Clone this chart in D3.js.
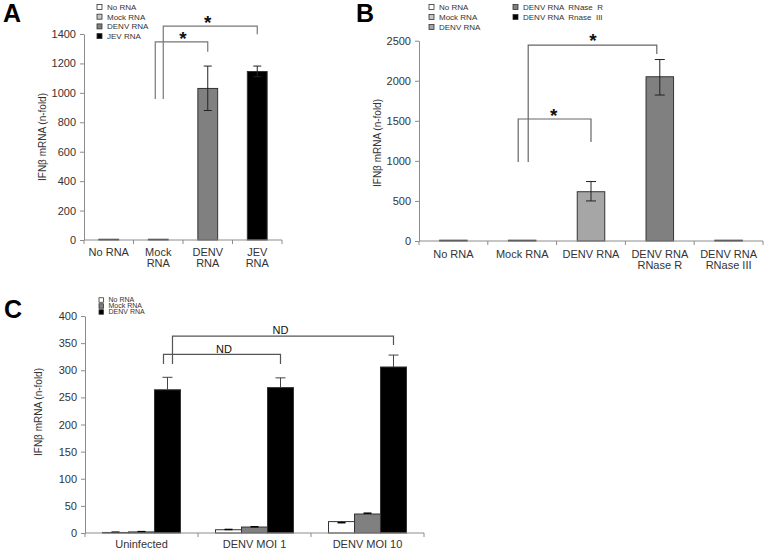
<!DOCTYPE html>
<html><head><meta charset="utf-8">
<script src="https://cdn.jsdelivr.net/npm/d3@7"></script>
<style>body{margin:0;background:#fff}svg{display:block;font-family:"Liberation Sans",Arial,sans-serif}</style>
</head><body><svg id="c" width="767" height="551"></svg>
<script>
// ---------- Data ----------
// Panel A
const catsA = ["No RNA", "Mock RNA", "DENV RNA", "JEV RNA"];
const labelsA = [["No RNA"], ["Mock", "RNA"], ["DENV", "RNA"], ["JEV", "RNA"]];
const valsA = [5, 5, 1030, 1145];
const errLoA = [0, 0, 880, 1110];
const errHiA = [0, 0, 1182, 1182];
const colorsA = ["#ffffff", "#c8c8c8", "#808080", "#000000"];
const ticksA = [0, 200, 400, 600, 800, 1000, 1200, 1400];
const legendA = ["No RNA", "Mock RNA", "DENV RNA", "JEV RNA"];

// Panel B
const catsB = ["No RNA", "Mock RNA", "DENV RNA", "DENV RNA RNase R", "DENV RNA RNase III"];
const labelsB = [["No RNA"], ["Mock RNA"], ["DENV RNA"], ["DENV RNA", "RNase R"], ["DENV RNA", "RNase III"]];
const valsB = [10, 10, 615, 2050, 10];
const errLoB = [0, 0, 500, 1822, 0];
const errHiB = [0, 0, 742, 2265, 0];
const colorsB = ["#ffffff", "#c8c8c8", "#a6a6a6", "#808080", "#000000"];
const ticksB = [0, 500, 1000, 1500, 2000, 2500];
const legendB = ["No RNA", "Mock RNA", "DENV RNA", "DENV RNA  RNase  R", "DENV RNA  Rnase  III"];
const legendColorsB = ["#ffffff", "#c8c8c8", "#a6a6a6", "#808080", "#000000"];

// Panel C
const groupsC = ["Uninfected", "DENV MOI 1", "DENV MOI 10"];
const seriesC = ["No RNA", "Mock RNA", "DENV RNA"];
const valsC = [[1, 2, 264], [6, 11, 268], [21, 35, 306]];
const errC = [[0.5, 0.5, 23], [0.5, 0.5, 18], [-2, 1.5, 22]];
const colorsC = ["#ffffff", "#808080", "#000000"];
const ticksC = [0, 50, 100, 150, 200, 250, 300, 350, 400];

// ---------- Drawing ----------
const svg = d3.select("#c");
const AX = "#8c8c8c", TX = "#333";

function yAxis(g, y, ticks) {
  g.call(d3.axisLeft(y).tickValues(ticks).tickFormat(d3.format("d")).tickSize(4).tickSizeOuter(0).tickPadding(4));
  g.select(".domain").attr("stroke", AX);
  g.selectAll(".tick line").attr("stroke", AX);
  g.selectAll(".tick text").attr("fill", TX).style("font-size", "11px").style("font-family", "Liberation Sans, Arial, sans-serif");
}
function xAxis(g, x, y0) {
  const r = x.range();
  g.append("line").attr("x1", r[0]).attr("x2", r[1]).attr("y1", y0).attr("y2", y0).attr("stroke", AX);
  const bounds = x.domain().map(d => x(d) - x.step() * x.paddingOuter()).concat([r[1]]);
  g.selectAll(".sep").data(bounds).join("line")
    .attr("x1", d => d).attr("x2", d => d).attr("y1", y0).attr("y2", y0 + 4).attr("stroke", AX);
}
function xLabels(g, x, cats, labels, y0, fs) {
  cats.forEach((c, i) => {
    const t = g.append("text").attr("x", x(c) + x.bandwidth() / 2).attr("y", y0)
      .attr("text-anchor", "middle").attr("fill", TX).style("font-size", fs + "px");
    labels[i].forEach((l, j) => t.append("tspan").attr("x", x(c) + x.bandwidth() / 2).attr("dy", j ? fs : 0).text(l));
  });
}
function yTitle(g, cx, cy) {
  g.append("text").attr("transform", `translate(${cx},${cy}) rotate(-90)`).attr("text-anchor", "middle")
    .attr("fill", TX).style("font-size", "10px").text("IFNβ mRNA (n-fold)");
}
function legend(g, x0, y0, items, colors, dy, fs, sq) {
  items.forEach((t, i) => {
    g.append("rect").attr("x", x0).attr("y", y0 + i * dy - sq / 2).attr("width", sq).attr("height", sq)
      .attr("fill", colors[i]).attr("stroke", "#333").attr("stroke-width", 0.8);
    g.append("text").attr("x", x0 + sq + 5).attr("y", y0 + i * dy).attr("dy", "0.35em")
      .attr("fill", TX).style("font-size", fs + "px").style("white-space", "pre").text(t);
  });
}
function errBar(g, cx, yLo, yHi, w) {
  g.append("line").attr("x1", cx).attr("x2", cx).attr("y1", yLo).attr("y2", yHi).attr("stroke", "#222");
  g.append("line").attr("x1", cx - w / 2).attr("x2", cx + w / 2).attr("y1", yHi).attr("y2", yHi).attr("stroke", "#222");
  g.append("line").attr("x1", cx - w / 2).attr("x2", cx + w / 2).attr("y1", yLo).attr("y2", yLo).attr("stroke", "#222");
}
function bracket(g, x1, x2, yTop, yL, yR, label, lx, ly, fs, bold, col) {
  g.append("path").attr("d", `M${x1},${yL}V${yTop}H${x2}V${yR}`).attr("fill", "none").attr("stroke", col).attr("stroke-width", 1.2);
  g.append("text").attr("x", lx).attr("y", ly).attr("text-anchor", "middle").attr("fill", "#111")
    .style("font-size", fs + "px").style("font-weight", bold ? "bold" : "normal").text(label);
}
function panelLetter(x, y, t) {
  svg.append("text").attr("x", x).attr("y", y).style("font-size", "25px").style("font-weight", "bold").attr("fill", "#000").text(t);
}

// ---- Panel A ----
{
  const g = svg.append("g");
  const x = d3.scaleBand().domain(catsA).range([84, 282]).paddingInner(0).paddingOuter(0);
  const y = d3.scaleLinear().domain([0, 1400]).range([240, 34]);
  const bw = x.bandwidth() * 0.4;
  catsA.forEach((c, i) => {
    const cx = x(c) + x.bandwidth() / 2;
    g.append("rect").attr("x", cx - bw / 2).attr("y", y(valsA[i])).attr("width", bw).attr("height", y(0) - y(valsA[i]))
      .attr("fill", colorsA[i]).attr("stroke", "#333").attr("stroke-width", 1);
    if (errHiA[i] > 0) errBar(g, cx, y(errLoA[i]), y(errHiA[i]), 8);
  });
  xAxis(g, x, y(0));
  yAxis(g.append("g").attr("transform", "translate(84,0)"), y, ticksA);
  xLabels(g, x, catsA, labelsA, 256, 11);
  yTitle(g, 46, 137);
  legend(g, 97, 7, legendA, colorsA, 9.7, 8, 5);
  const cM = x("Mock RNA") + x.bandwidth() / 2, cD = x("DENV RNA") + x.bandwidth() / 2, cJ = x("JEV RNA") + x.bandwidth() / 2;
  bracket(g, cM - 3, cD, y(1346), y(958), y(1280), "*", (cM + cD) / 2, 45, 19, true, "#777");
  bracket(g, cM + 5, cJ, y(1454), y(958), y(1398), "*", (cM + cJ) / 2, 29, 19, true, "#777");
  panelLetter(3, 22, "A");
}

// ---- Panel B ----
{
  const g = svg.append("g");
  const x = d3.scaleBand().domain(catsB).range([419, 763]).paddingInner(0).paddingOuter(0);
  const y = d3.scaleLinear().domain([0, 2500]).range([241, 40.7]);
  const bw = x.bandwidth() * 0.4;
  catsB.forEach((c, i) => {
    const cx = x(c) + x.bandwidth() / 2;
    g.append("rect").attr("x", cx - bw / 2).attr("y", y(valsB[i])).attr("width", bw).attr("height", y(0) - y(valsB[i]))
      .attr("fill", colorsB[i]).attr("stroke", "#333").attr("stroke-width", 1);
    if (errHiB[i] > 0) errBar(g, cx, y(errLoB[i]), y(errHiB[i]), 10);
  });
  xAxis(g, x, y(0));
  yAxis(g.append("g").attr("transform", "translate(419,0)"), y, ticksB);
  xLabels(g, x, catsB, labelsB, 258, 11);
  yTitle(g, 381, 143);
  legend(g, 429, 7, legendB.slice(0, 3), legendColorsB.slice(0, 3), 10, 8, 5);
  legend(g, 513, 7, legendB.slice(3), legendColorsB.slice(3), 10, 8, 5);
  const cM = x("Mock RNA") + x.bandwidth() / 2, cD = x("DENV RNA") + x.bandwidth() / 2, cR = x("DENV RNA RNase R") + x.bandwidth() / 2;
  bracket(g, cM - 4, cD, y(1523), y(986), y(1236), "*", (cM + cD) / 2 - 3, 122, 19, true, "#666");
  bracket(g, cM + 6, cR - 3, y(2446), y(986), y(2334), "*", 593, 47, 19, true, "#666");
  panelLetter(356, 22, "B");
}

// ---- Panel C ----
{
  const g = svg.append("g");
  const x = d3.scaleBand().domain(groupsC).range([85, 424]).paddingInner(0).paddingOuter(0);
  const y = d3.scaleLinear().domain([0, 400]).range([533, 316]);
  const gw = x.bandwidth() * 0.69;
  const xs = d3.scaleBand().domain(seriesC).range([0, gw]);
  const centers = {};
  groupsC.forEach((grp, gi) => {
    const gx = x(grp) + (x.bandwidth() - gw) / 2;
    seriesC.forEach((s, si) => {
      const v = valsC[gi][si];
      const bx = gx + xs(s);
      g.append("rect").attr("x", bx).attr("y", y(v)).attr("width", xs.bandwidth()).attr("height", y(0) - y(v))
        .attr("fill", colorsC[si]).attr("stroke", "#333").attr("stroke-width", 1);
      const cx = bx + xs.bandwidth() / 2;
      centers[gi + "_" + si] = cx;
      const e = errC[gi][si];
      const w = si === 2 ? 10 : 8;
      g.append("line").attr("x1", cx).attr("x2", cx).attr("y1", y(v)).attr("y2", y(v + e)).attr("stroke", si === 2 ? "#444" : "#000");
      g.append("line").attr("x1", cx - w / 2).attr("x2", cx + w / 2).attr("y1", y(v + e)).attr("y2", y(v + e))
        .attr("stroke", si === 2 ? "#444" : "#000").attr("stroke-width", si === 2 ? 1 : 1.5);
    });
  });
  xAxis(g, x, y(0));
  yAxis(g.append("g").attr("transform", "translate(85,0)"), y, ticksC);
  xLabels(g, x, groupsC, groupsC.map(d => [d]), 548, 11);
  yTitle(g, 42, 412);
  legend(g, 99, 300, seriesC, colorsC, 6, 7, 4.5);
  const c0 = centers["0_2"], c1 = centers["1_2"], c2 = centers["2_2"];
  bracket(g, c0 - 4, c1, y(329.4), y(311.5), y(311.5), "ND", (c0 + c1) / 2, 353, 11, false, "#555");
  bracket(g, c0 + 5, c2, y(363), y(311.5), y(346.5), "ND", (c0 + c2) / 2, 334, 11, false, "#555");
  panelLetter(4, 318, "C");
}
</script></body></html>
